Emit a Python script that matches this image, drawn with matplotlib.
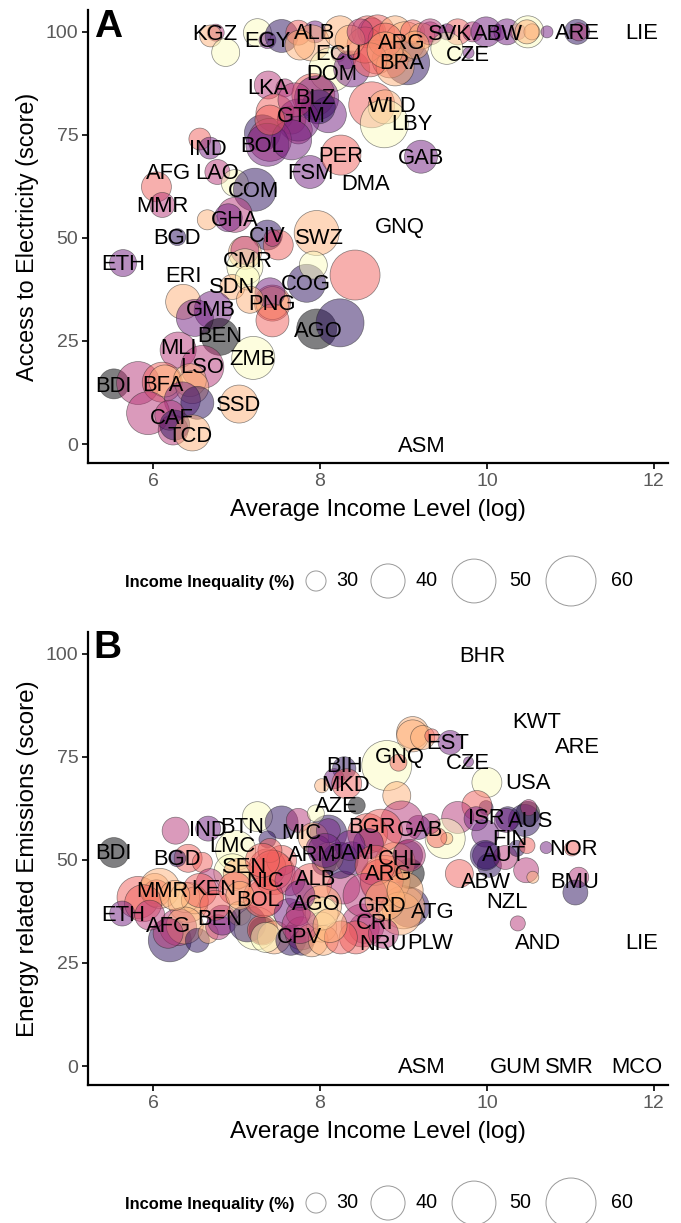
import numpy as np
import matplotlib
matplotlib.use("Agg")
import matplotlib.pyplot as plt

plt.rcParams['font.family'] = ['Liberation Sans', 'DejaVu Sans']

# ---------- Panel A : marks ----------
a_income = [6.75,6.69,6.87,7.25,7.37,7.54,7.74,7.94,7.90,8.24,8.22,8.13,8.32,8.38,8.57,8.62,8.69,8.68,8.90,9.02,9.05,8.84,8.90,9.11,9.32,9.22,
            9.65,9.32,9.52,9.52,9.78,9.83,9.99,10.13,10.24,10.37,10.49,10.54,10.48,10.72,11.08,11.10,
            7.38,7.58,7.92,7.96,8.62,8.78,8.77,7.46,7.66,7.74,8.10,7.98,7.74,7.31,7.40,7.37,7.66,
            6.56,6.68,6.77,6.98,7.22,6.04,6.11,7.88,8.25,9.21,6.65,6.98,6.90,
            7.37,7.50,7.43,7.96,8.42,7.84,7.92,7.10,7.10,7.10,6.95,7.13,7.43,7.43,7.40,7.16,7.43,
            7.96,8.24,5.64,6.29,6.36,6.72,6.50,6.80,7.20,6.30,6.59,5.53,5.82,6.11,6.14,6.44,6.47,
            6.35,6.53,7.03,5.94,6.24,6.20,6.26,6.47,
            8.54,8.36,8.78,8.60,9.14,7.76,7.70,7.40,8.78,8.48]
a_access = [99.8,99,95,99.8,98,99,99.8,100,97.3,100,94.4,90.8,93.2,91,100,100,100,93.9,100,97.6,92.5,93.2,91.5,100,100,99,
            100,100,100,96,94.9,100,100,99.8,100,100,100,100,100,100,100,100,
            87.1,86.4,84.7,84,82.3,81.8,77.7,80.3,78.6,76.2,79.9,81.8,78.6,75.5,73.8,72.6,73.8,
            74,71.8,66,63.3,61.7,62.4,58,66,70.1,69.7,54.4,55.6,54.9,
            50.7,48.3,50,51.2,41,39,43.4,46.4,47,43,38.1,40.3,34.2,34.2,36.7,35,30,
            27.9,29.4,43.9,50.2,34.5,32.5,30.6,26,20.9,22.8,18.7,14.6,14.8,15,15.3,15.5,13.8,
            10.7,10,9.7,7.5,3.4,7,4.6,2.7,
            96.8,98,98,93.2,96.8,96.8,83.5,78.6,95.6,100]
a_gini = [28.5,31,35,35,28.5,39,32.9,31,41.8,38.2,27.3,50.2,29,41.8,38.2,35,39.9,39.9,38.2,45.8,50.2,41.8,43.7,32.3,30,33.6,
          33.6,33.6,28.1,38.2,26.3,30,36.5,28.1,33.6,28.1,38.2,28.1,32.3,26.6,32.9,29,
          35,29,49,50.2,52.5,39.9,55,43.7,35,35,41.8,39.9,48,41.8,49,49,45.8,
          31,31,32.9,34.3,49,36.5,32.9,39,45.8,39,30,40.8,35,
          36.5,36.5,28.5,51.3,57.6,43.7,35,39,35,41.8,32.9,32.3,41.8,39,36.5,34.3,39,
          45.8,55,34.3,28.5,40.8,43.7,42.7,42.7,49,41.8,49,36.5,49,45.8,38.2,39,39,
          41.8,39,43.7,49,36.5,36.5,36.5,41.8,
          41.8,36.5,39.9,39.9,35,36.5,39.9,36.5,41.8,33.6]
a_group = [3,5,6,6,2,1,4,2,5,5,3,6,2,2,4,3,4,4,5,5,1,4,5,4,3,5,
           4,3,2,6,2,3,2,2,2,3,6,5,5,2,1,3,
           3,3,4,2,4,5,6,4,4,3,2,1,2,1,3,2,2,
           4,2,3,6,1,4,3,2,4,2,5,3,2,
           1,4,3,5,4,1,6,5,3,6,5,6,4,5,2,5,4,
           0,1,2,1,5,2,2,0,6,3,3,0,3,4,5,5,5,
           2,1,5,3,3,3,1,5,
           4,5,4,4,5,5,3,4,5,3]

a_labels = ['KGZ','EGY','ALB','ECU','DOM','ARG','BRA','SVK','CZE','ABW','ARE','LIE','LKA','BLZ','GTM','WLD','LBY','BOL','IND','PER','GAB',
            'AFG','LAO','FSM','DMA','COM','MMR','GHA','GNQ','BGD','CIV','SWZ','CMR','ETH','ERI','SDN','COG','PNG','GMB','BEN','AGO',
            'MLI','LSO','ZMB','BDI','BFA','SSD','CAF','TCD','ASM']
a_label_x = [6.74,7.37,7.94,8.22,8.14,8.98,8.98,9.56,9.77,10.13,11.08,11.86,7.38,7.94,7.78,8.87,9.10,7.31,6.66,8.25,9.21,
             6.18,6.77,7.88,8.55,7.20,6.11,6.98,8.96,6.29,7.37,7.99,7.13,5.64,6.36,6.95,7.83,7.43,6.69,6.80,7.98,
             6.30,6.59,7.19,5.53,6.12,7.03,6.23,6.44,9.22]
a_label_y = [99.8,98,100,94.9,90,97.6,92.7,99.8,94.7,99.8,100,100,86.6,84.2,79.9,82.3,77.9,72.6,71.8,70.1,69.7,
             66,66,66,63.3,61.7,58,54.6,52.9,50.2,50.7,50.2,44.7,43.9,41,38.3,39,34.2,32.8,26.5,27.7,
             23.5,18.9,20.9,14.3,14.6,9.7,6.6,2.2,-0.2]

# ---------- Panel B : marks ----------
b_income = [9.11,9.11,9.23,9.34,9.56,8.80,8.94,8.92,9.78,10.00,9.99,9.88,10.25,10.49,10.45,10.50,9.65,
            9.98,9.87,10.23,9.50,9.52,9.40,9.32,9.18,9.99,10.03,10.22,10.36,10.47,10.48,10.55,10.71,11.02,11.10,11.06,9.67,10.37,
            9.07,9.00,9.05,9.07,8.90,8.78,8.98,8.57,8.73,9.07,8.28,8.74,8.10,8.38,8.05,8.58,
            9.98,8.96,8.53,8.51,8.43,8.76,
            7.25,7.54,7.74,6.27,6.66,6.99,7.37,5.53,6.42,6.29,6.59,
            6.95,7.02,6.68,5.82,6.02,6.04,6.08,5.88,6.42,6.38,6.50,5.63,
            6.20,6.30,6.38,6.18,6.53,6.66,6.78,6.83,6.98,7.03,7.23,7.31,7.13,7.31,7.45,7.35,
            7.45,7.37,7.54,7.40,7.34,7.32,7.63,7.65,7.78,7.78,7.90,7.92,8.10,8.10,7.98,
            8.02,8.02,7.90,8.04,8.25,8.02,7.74,8.29,8.17,8.32,8.02,8.44,7.95,
            7.43,7.31,7.64,7.76,8.24,8.36,8.06,8.66,8.54,8.78,9.02,7.76,8.12,6.56,6.74,6.26,5.96,7.04]
b_emission = [80.9,80.1,79.7,80.1,78.5,72.9,73.6,65.6,73.8,68.8,62.7,63.2,60,61.3,59.6,62.7,60.3,
              56.4,60,59.6,55.2,55.2,55.4,58.8,57.9,51.1,48.7,50.6,52.8,47.5,53.5,45.8,53,52.8,45.8,42.1,46.7,34.6,
              38.5,38.5,51.1,46.7,49.4,45,59.1,56.4,57.1,51.1,43.3,45,56.4,50.4,49.2,54,
              51.1,37,33.4,34.1,31.2,32.2,
              60.5,59.1,59.6,57.1,57.6,52.3,55,51.8,50.4,50.4,49.4,
              47,46.7,44.6,40.9,43.1,41.9,43.1,39.5,39.7,40.9,40.2,37,
              30.5,33.7,34.1,32.2,30.5,32.2,33.7,35.4,43.1,37,33.4,32.9,34.6,33,31.2,31.2,
              46.7,48.2,49.9,52.3,40.9,40.9,37,30.5,32.2,29.8,44.3,55.4,50.6,57.1,53,
              39,33.7,30.5,30.5,31.2,37,37,72.2,69.7,68.5,68,63.2,61.3,
              47.5,49.9,45,41.4,49.9,53.5,52.3,48.7,41.4,40.2,42.6,34.1,34.1,42.6,39,41.4,36.6,41.4]
b_gini = [38.2,38.2,32.3,27.3,32.3,57.6,28.5,35,26,36.5,27.3,36.5,32.3,32.3,38.2,28.1,38.2,
          34.3,32.3,32.3,45.8,26.6,30,30,32.3,34.3,32.3,32.3,28.1,32.9,28.1,26.6,26.6,27.7,30,32.9,35,27.7,
          45.8,49,36.5,36.5,45.8,57.6,49,45.8,49,38.2,39,49,42.7,39,32.3,36.5,
          36.5,49,36.5,49,39,36.5,
          36.5,39,32.3,34.3,32.9,45.8,28.5,36.5,35,28.5,30,
          42.7,36.5,34.3,48,36.5,34.3,45.8,42.7,45.8,36.5,34.3,32.9,
          49,42.7,42.7,36.5,32.3,30,32.9,36.5,39,32.3,49,34.3,42.7,36.5,39,36.5,
          48,42.7,36.5,32.3,42.7,45.8,36.5,36.5,39,32.3,45.8,36.5,36.5,32.3,32.3,
          45.8,36.5,39,36.5,39,39,32.3,31.9,30,36.5,27.3,28.5,28.5,
          45.8,39.9,36.5,36.5,41.8,36.5,39.9,45.8,50.2,45.8,41.8,41.8,39.9,39.9,36.5,36.5,36.5,35]
b_group = [5,5,5,4,2,6,4,5,2,6,1,4,1,0,1,3,3,
           2,2,2,6,5,4,3,2,2,1,3,1,3,4,5,2,4,3,1,4,3,
           1,5,1,0,5,5,3,4,4,3,3,4,1,2,1,2,
           1,5,3,3,4,3,
           6,1,3,3,2,6,1,0,4,1,4,
           6,5,3,4,5,4,5,4,5,6,5,2,
           1,3,5,3,1,5,3,2,4,5,6,0,1,4,5,6,
           4,4,4,4,4,4,2,1,3,1,4,5,5,2,2,
           5,6,5,5,4,6,3,1,2,4,5,0,6,
           4,4,3,2,1,2,2,4,3,5,5,3,5,4,4,5,3,5]

b_labels = ['BHR','KWT','ARE','EST','GNQ','BIH','CZE','USA','MKD','AZE','ISR','AUS','IND','BTN','GAB','BGR','MIC','FIN','LMC','NOR',
            'ARM','JAM','CHL','BDI','BGD','AUT','SEN','ARG','ABW','BMU','KEN','NIC','ALB','MMR','NZL','BOL','AGO','GRD','ATG','ETH',
            'CRI','AFG','BEN','CPV','NRU','PLW','AND','LIE','ASM','GUM','SMR','MCO']
b_label_x = [9.94,10.60,11.08,9.53,8.96,8.29,9.77,10.49,8.31,8.20,9.99,10.52,6.66,7.07,9.20,8.62,7.78,10.27,6.95,11.04,
             7.91,8.39,8.96,5.53,6.29,10.21,7.10,8.82,9.99,11.05,6.73,7.34,7.95,6.11,10.24,7.26,7.96,8.74,9.35,5.64,
             8.66,6.18,6.80,7.75,8.75,9.32,10.61,11.86,9.22,10.34,10.99,11.80]
b_label_y = [99.8,83.8,77.5,78.5,75.1,72.9,73.8,68.8,68.5,63.4,60.3,59.6,57.6,58.1,57.6,58.1,56.7,55.2,53.5,52.8,
             51.3,51.8,50.4,51.8,50.4,51.3,48.4,46.7,44.8,44.8,43.1,45,45.5,42.6,39.9,40.4,39.5,39,37.5,36.8,
             34.9,34.1,35.8,31.5,29.8,30,30,30,0,0,0,0]

# ---------- Shared ----------
x_ticks = [6, 8, 10, 12]
y_ticks = [0, 25, 50, 75, 100]
legend_breaks = [30, 40, 50, 60]
legend_title = 'Income Inequality (%)'
x_title = 'Average Income Level (log)'
a_title = 'Access to Electricity (score)'
b_title = 'Energy related Emissions (score)'

W, H = 681, 1223
palette = [plt.get_cmap('magma')(i / 6) for i in range(7)]


def size(g):
    return 39.4 * (np.asarray(g, dtype=float) - 24.7)


fig = plt.figure(figsize=(W / 100, H / 100), dpi=100, facecolor='white')


def rect(l, t, r, b):
    return [l / W, 1 - b / H, (r - l) / W, (b - t) / H]


def panel(box, xs, ys, gs, cs, labs, lx, ly, ylabel, ylabel_size, tag, tag_xy):
    ax = fig.add_axes(rect(*box))
    ax.scatter(xs, ys, s=size(gs), c=[(*palette[c][:3], 0.5) for c in cs],
               edgecolors=(0.15, 0.15, 0.15, 0.55), linewidths=0.5, zorder=2, clip_on=False)
    for t, x, y in zip(labs, lx, ly):
        ax.annotate(t, (x, y), xytext=(0, -1.0), textcoords='offset points',
                    ha='center', va='center', fontsize=15.8, color='black', zorder=3)
    ax.set_xlim(5.22, 12.17)
    ax.set_ylim(-4.6, 105.3)
    ax.set_xticks(x_ticks)
    ax.set_yticks(y_ticks)
    ax.tick_params(axis='both', length=4, width=1.2, color='black',
                   labelcolor='#5a5a5a', labelsize=14, pad=3)
    for s in ('top', 'right'):
        ax.spines[s].set_visible(False)
    for s in ('left', 'bottom'):
        ax.spines[s].set_linewidth(1.6)
    ax.set_xlabel(x_title, fontsize=17.5, labelpad=6.5)
    ax.set_ylabel(ylabel, fontsize=ylabel_size, labelpad=4.5)
    fig.text(tag_xy[0] / W, 1 - tag_xy[1] / H, tag, fontsize=28, fontweight='bold',
             ha='center', va='center', color='black')
    return ax


panel((88, 10, 668, 463), a_income, a_access, a_gini, a_group, a_labels, a_label_x, a_label_y,
      a_title, 16.8, 'A', (108, 27))
panel((88, 632, 668, 1085), b_income, b_emission, b_gini, b_group, b_labels, b_label_x, b_label_y,
      b_title, 17.5, 'B', (107, 648))


def legend(cy):
    lax = fig.add_axes([0, 0, 1, 1], facecolor='none')
    lax.set_xlim(0, W)
    lax.set_ylim(H, 0)
    lax.axis('off')
    lax.text(210, cy + 1, legend_title, fontsize=11.9, fontweight='bold', ha='center', va='center')
    key_x = [316, 388, 474, 571]
    txt_x = [347, 427, 520, 622]
    for b, kx, tx in zip(legend_breaks, key_x, txt_x):
        lax.scatter([kx], [cy], s=size(b) * (0.93 if b == 60 else 1), facecolors='none',
                    edgecolors='#999999', linewidths=0.7, clip_on=False)
        lax.text(tx, cy, str(b), fontsize=14.2, ha='center', va='center', color='black')


legend(581)
legend(1203)

fig.savefig('out.png', dpi=100)
